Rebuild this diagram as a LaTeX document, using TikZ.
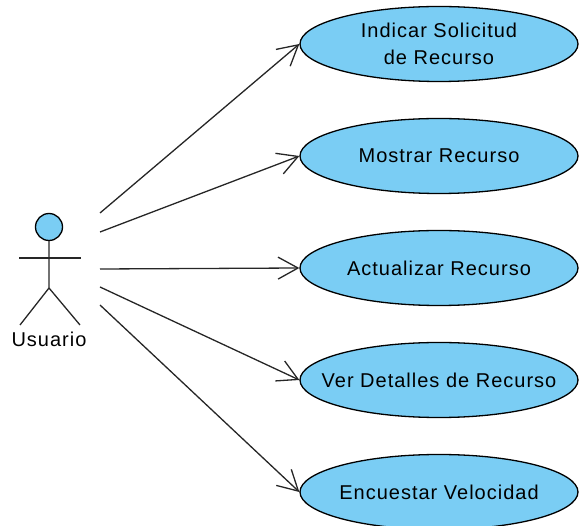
\documentclass[tikz,border=0pt]{standalone}
\usepackage{fontspec}
\newfontfamily\umlfont[LetterSpace=5]{Liberation Sans}
\usepackage{tikz}
\usetikzlibrary{shapes,arrows.meta}
\definecolor{ucfill}{RGB}{122,205,244}
\tikzset{
  usecase/.style={ellipse, draw, fill=ucfill, line width=1.3pt, minimum width=278pt, minimum height=75pt, inner sep=0pt, align=center, font=\umlfont\fontsize{20}{27}\selectfont},
  assoc/.style={-{Straight Barb[length=20pt, width=22pt, line width=1.3pt]}, line width=1.3pt, draw=black!85}
}
\newcommand{\ucase}[3] {\node at (#1) (#2) [usecase] {#3};}
\newcommand{\ucassoc}[2] {\draw [assoc] (#1) -- (#2);}
\newcommand{\ucline}[1] {\makebox[0pt]{#1}}

\begin{document}
\begin{tikzpicture}[x=1pt, y=-1pt]
\useasboundingbox (0,0) rectangle (579,526);

% actor
\node at (49,227) (head) [circle, draw, fill=ucfill, line width=1.3pt, minimum size=27pt, inner sep=0pt] {};
\draw [line width=1.3pt, draw=black!85] (head.south) -- (49,288) -- (20,325);
\draw [line width=1.3pt, draw=black!85] (49,288) -- (80,325);
\draw [line width=1.3pt, draw=black!85] (19,258) -- (81,258);
\node at (49,339) (usuario) [font=\umlfont\fontsize{20}{24}\selectfont] {Usuario};

\coordinate (usuario1) at (100,213);
\coordinate (usuario2) at (100,232);
\coordinate (usuario3) at (100,269);
\coordinate (usuario4) at (100,287);
\coordinate (usuario5) at (100,305);

\ucase {439,44}{indicar}{\ucline{Indicar Solicitud}\\\ucline{de Recurso}}
\ucase {439,156}{mostrar}{\ucline{Mostrar Recurso}}
\ucase {439,268}{actualizar}{\ucline{Actualizar Recurso}}
\ucase {439,380}{detalles}{\ucline{Ver Detalles de Recurso}}
\ucase {439,492}{encuestar}{\ucline{Encuestar Velocidad}}

\ucassoc {usuario1}{indicar.west}
\ucassoc {usuario2}{mostrar.west}
\ucassoc {usuario3}{actualizar.west}
\ucassoc {usuario4}{detalles.west}
\ucassoc {usuario5}{encuestar.west}

\end{tikzpicture}
\end{document}
